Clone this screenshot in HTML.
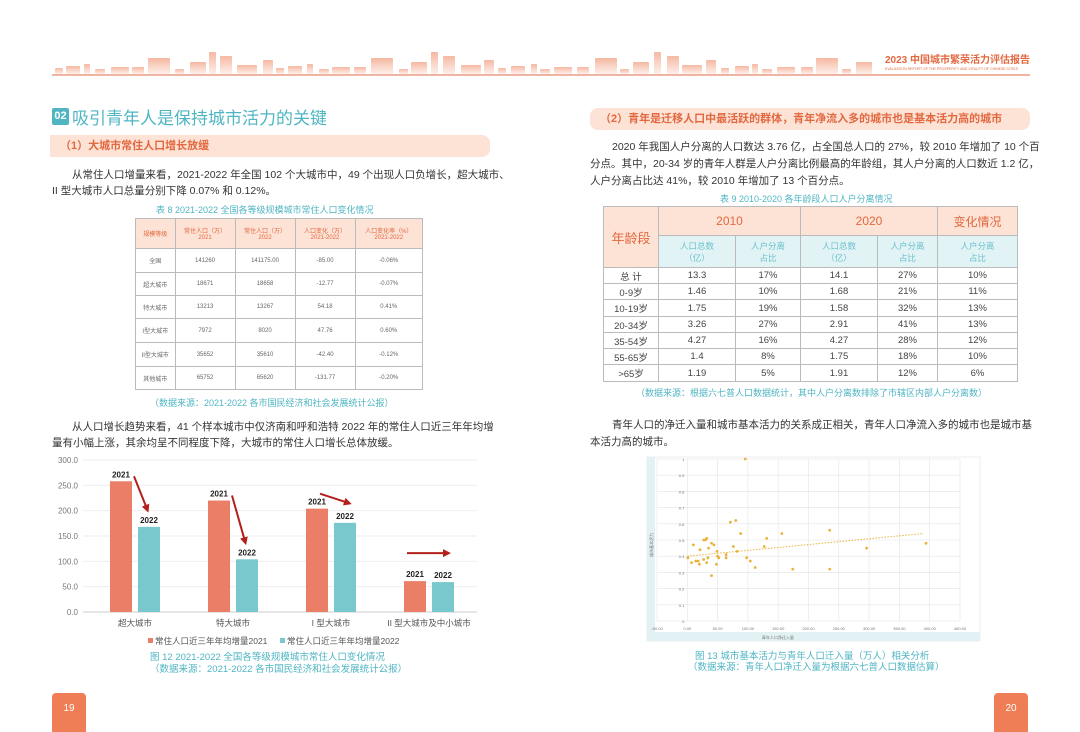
<!DOCTYPE html>
<html><head><meta charset="utf-8"><style>
*{margin:0;padding:0;box-sizing:border-box}
body{width:1080px;height:732px;background:#fff;position:relative;overflow:hidden;font-family:"Liberation Sans","Noto Sans CJK SC",sans-serif;color:#333}
.a{position:absolute;white-space:nowrap}
.p{font-size:10.5px;color:#333}
.cap{font-size:9px;color:#4fb5c3}
.sub{background:#fde2d6;color:#e2683f;font-size:11px;font-weight:bold;border-radius:0 8px 8px 0;padding-left:10px;line-height:22px}
table{border-collapse:collapse;position:absolute}
td{border:1px solid #bbb;text-align:center;font-size:6px;color:#666;padding:0}
.t9 td{font-size:9.5px;color:#444}
</style></head><body>
<svg class="a" style="left:0;top:0" width="1080" height="90">
<defs><linearGradient id="g" x1="0" y1="0" x2="0" y2="1"><stop offset="0" stop-color="#f6b8a2"/><stop offset="1" stop-color="#fdf0ea"/></linearGradient></defs>
<g fill="url(#g)" id="sky"></g>
<line x1="52" y1="75" x2="1030" y2="75" stroke="#e7876b" stroke-width="1.2"/>
<text x="885" y="63" font-size="10" fill="#e2683f" font-weight="bold" font-family="Liberation Sans,Noto Sans CJK SC,sans-serif">2023 中国城市繁荣活力评估报告</text>
<text x="885" y="70" font-size="3.5" fill="#e2683f">EVALUATION REPORT OF THE PROSPERITY AND VITALITY OF CHINESE CITIES</text>
</svg>
<div class="a" style="left:52px;top:108px;width:17px;height:17px;background:#4fb5c3;color:#fff;font-size:11px;font-weight:bold;text-align:center;line-height:17px;border-radius:2px">02</div>
<div class="a" style="left:72px;top:104px;font-size:17px;color:#4fb5c3">吸引青年人是保持城市活力的关键</div>
<div class="a sub" style="left:50px;top:135px;width:440px">（1）大城市常住人口增长放缓</div>
<div class="a p" style="left:72px;top:167px">从常住人口增量来看，2021-2022 年全国 102 个大城市中，49 个出现人口负增长，超大城市、</div>
<div class="a p" style="left:52px;top:183px">II 型大城市人口总量分别下降 0.07% 和 0.12%。</div>
<div class="a cap" style="left:156px;top:203px">表 8  2021-2022 全国各等级规模城市常住人口变化情况</div>
<table style="left:135px;top:218px;width:288px">
<tr style="height:30px;background:#fde2d6;color:#e2683f"><td style="color:#e2683f">规模等级</td><td style="color:#e2683f">常住人口（万）<br>2021</td><td style="color:#e2683f">常住人口（万）<br>2022</td><td style="color:#e2683f">人口变化（万）<br>2021-2022</td><td style="color:#e2683f">人口变化率（%）<br>2021-2022</td></tr>
<tr style="height:24px"><td>全国</td><td>141260</td><td>141175.00</td><td>-85.00</td><td>-0.06%</td></tr>
<tr style="height:23px"><td>超大城市</td><td>18671</td><td>18658</td><td>-12.77</td><td>-0.07%</td></tr>
<tr style="height:23px"><td>特大城市</td><td>13213</td><td>13267</td><td>54.18</td><td>0.41%</td></tr>
<tr style="height:24px"><td>I型大城市</td><td>7972</td><td>8020</td><td>47.76</td><td>0.60%</td></tr>
<tr style="height:24px"><td>II型大城市</td><td>35652</td><td>35610</td><td>-42.40</td><td>-0.12%</td></tr>
<tr style="height:23px"><td>其他城市</td><td>65752</td><td>65620</td><td>-131.77</td><td>-0.20%</td></tr>
</table>
<div class="a cap" style="left:150px;top:396px">（数据来源：2021-2022 各市国民经济和社会发展统计公报）</div>
<div class="a p" style="left:72px;top:419px">从人口增长趋势来看，41 个样本城市中仅济南和呼和浩特 2022 年的常住人口近三年年均增</div>
<div class="a p" style="left:52px;top:435px">量有小幅上涨，其余均呈不同程度下降，大城市的常住人口增长总体放缓。</div>
<svg class="a" style="left:0;top:450px" width="540" height="200" id="bar"></svg>
<div class="a cap" style="left:150px;top:649px;font-size:9.5px">图 12  2021-2022 全国各等级规模城市常住人口变化情况</div>
<div class="a cap" style="left:150px;top:661px;font-size:9.5px">（数据来源：2021-2022 各市国民经济和社会发展统计公报）</div>
<div class="a" style="left:52px;top:693px;width:34px;height:39px;background:#ef7d55;color:#fff;font-size:10px;text-align:center;line-height:32px;border-radius:4px 4px 0 0">19</div>

<div class="a sub" style="left:590px;top:108px;width:440px;border-radius:8px">（2）青年是迁移人口中最活跃的群体，青年净流入多的城市也是基本活力高的城市</div>
<div class="a p" style="left:612px;top:139px">2020 年我国人户分离的人口数达 3.76 亿，占全国总人口的 27%，较 2010 年增加了 10 个百</div>
<div class="a p" style="left:590px;top:156px">分点。其中，20-34 岁的青年人群是人户分离比例最高的年龄组，其人户分离的人口数近 1.2 亿，</div>
<div class="a p" style="left:590px;top:173px">人户分离占比达 41%，较 2010 年增加了 13 个百分点。</div>
<div class="a cap" style="left:720px;top:192px">表 9  2010-2020 各年龄段人口人户分离情况</div>
<table class="t9" style="left:603px;top:206px;width:415px">
<tr style="height:29px;background:#fde2d6"><td rowspan="2" style="width:55px;color:#e2683f;font-size:13px">年龄段</td><td colspan="2" style="color:#e2683f;font-size:12px">2010</td><td colspan="2" style="color:#e2683f;font-size:12px">2020</td><td style="color:#e2683f;font-size:12px">变化情况</td></tr>
<tr style="height:32px;background:#e2f3f5"><td style="width:77px;color:#6cc1cc;font-size:8.5px">人口总数<br>（亿）</td><td style="width:65px;color:#6cc1cc;font-size:8.5px">人户分离<br>占比</td><td style="width:77px;color:#6cc1cc;font-size:8.5px">人口总数<br>（亿）</td><td style="width:60px;color:#6cc1cc;font-size:8.5px">人户分离<br>占比</td><td style="color:#6cc1cc;font-size:8.5px">人户分离<br>占比</td></tr>
<tr style="height:16px"><td>总 计</td><td>13.3</td><td>17%</td><td>14.1</td><td>27%</td><td>10%</td></tr>
<tr style="height:16px"><td>0-9岁</td><td>1.46</td><td>10%</td><td>1.68</td><td>21%</td><td>11%</td></tr>
<tr style="height:17px"><td>10-19岁</td><td>1.75</td><td>19%</td><td>1.58</td><td>32%</td><td>13%</td></tr>
<tr style="height:16px"><td>20-34岁</td><td>3.26</td><td>27%</td><td>2.91</td><td>41%</td><td>13%</td></tr>
<tr style="height:16px"><td>35-54岁</td><td>4.27</td><td>16%</td><td>4.27</td><td>28%</td><td>12%</td></tr>
<tr style="height:16px"><td>55-65岁</td><td>1.4</td><td>8%</td><td>1.75</td><td>18%</td><td>10%</td></tr>
<tr style="height:17px"><td>&gt;65岁</td><td>1.19</td><td>5%</td><td>1.91</td><td>12%</td><td>6%</td></tr>
</table>
<div class="a cap" style="left:636px;top:386px">（数据来源：根据六七普人口数据统计，其中人户分离数排除了市辖区内部人户分离数）</div>
<div class="a p" style="left:612px;top:417px">青年人口的净迁入量和城市基本活力的关系成正相关，青年人口净流入多的城市也是城市基</div>
<div class="a p" style="left:590px;top:434px">本活力高的城市。</div>
<svg class="a" style="left:640px;top:455px" width="350" height="190" id="sc"></svg>
<div class="a cap" style="left:695px;top:648px;font-size:9.5px">图 13  城市基本活力与青年人口迁入量（万人）相关分析</div>
<div class="a cap" style="left:688px;top:659px;font-size:9.5px">（数据来源：青年人口净迁入量为根据六七普人口数据估算）</div>
<div class="a" style="left:994px;top:693px;width:34px;height:39px;background:#ef7d55;color:#fff;font-size:10px;text-align:center;line-height:32px;border-radius:4px 4px 0 0">20</div>
<script>
const NS="http://www.w3.org/2000/svg";
function mk(p,t,a){const e=document.createElementNS(NS,t);for(const k in a)e.setAttribute(k,a[k]);p.appendChild(e);return e;}
// skyline
const sky=document.getElementById('sky');
const bw=[8,14,6,10,18,12,22,9,16,7,12,20,10];const bh=[6,12,5,9,16,8,22,7,14,5,10,18,7];
let sx=55,i=0;
while(sx<870){const w=bw[i%13],h=bh[(i*5)%13];const b=mk(sky,'rect',{x:sx,y:74-h,width:w,height:h,rx:1});


sx+=w+3+(i%4);i++;}
// bar chart
const cats=["超大城市","特大城市","I 型大城市","II 型大城市及中小城市"];
const v2021=[258,220,204,61];
const v2022=[168,104,176,59];
const yTicks=[0,50,100,150,200,250,300];
const bar=document.getElementById('bar');
const df=mk(bar,'defs',{});const mkr=mk(df,'marker',{id:'ah',markerWidth:4,markerHeight:4,refX:2,refY:2,orient:'auto'});mk(mkr,'path',{d:'M0,0L4,2L0,4z',fill:'#b3201c'});
const y0=162,yTop=10;const Y=v=>y0-(v/300)*(y0-yTop);
const X=i=>133+i*98;
yTicks.forEach(t=>{const l=mk(bar,'line',{x1:83,x2:477,y1:Y(t),y2:Y(t),stroke:t?'#eee':'#ccc'});


const tx=mk(bar,'text',{x:78,y:Y(t)+3,'font-size':8,fill:'#777','text-anchor':'end'});tx.textContent=t.toFixed(1);

});
cats.forEach((c,i)=>{
const r1=mk(bar,'rect',{x:X(i)-23,y:Y(v2021[i]),width:22,height:y0-Y(v2021[i]),fill:'#ea7e66'});


const r2=mk(bar,'rect',{x:X(i)+5,y:Y(v2022[i]),width:22,height:y0-Y(v2022[i]),fill:'#79c8cd'});


const a=mk(bar,'text',{x:X(i)-12,y:Y(v2021[i])-4,'font-size':8,'font-weight':'bold','text-anchor':'middle',fill:'#222'});a.textContent='2021';


const b=mk(bar,'text',{x:X(i)+16,y:Y(v2022[i])-4,'font-size':8,'font-weight':'bold','text-anchor':'middle',fill:'#222'});b.textContent='2022';


const cl=mk(bar,'text',{x:X(i)+2,y:y0+14,'font-size':8.5,fill:'#555','text-anchor':'middle'});cl.textContent=c;


const d=v2021[i]-v2022[i];
let ax1,ay1,ax2,ay2;
if(d<10){ax1=X(i)-20;ay1=Y(v2021[i])-28;ax2=X(i)+20;ay2=ay1;}
else if(d<50){ax1=X(i)-9;ay1=Y(v2021[i])-15;ax2=X(i)+19;ay2=Y(v2022[i])-20;}
else{ax1=X(i)+1;ay1=Y(v2021[i])-5;ax2=X(i)+14;ay2=Y(v2022[i])-18;}
const ar=mk(bar,'line',{x1:ax1,y1:ay1,x2:ax2,y2:ay2,stroke:'#b3201c','stroke-width':2,'marker-end':'url(#ah)'});


});
[['#ea7e66','常住人口近三年年均增量2021',148],['#79c8cd','常住人口近三年年均增量2022',280]].forEach(l=>{
const s=mk(bar,'rect',{x:l[2],y:y0+26,width:5,height:5,fill:l[0]});
const t=mk(bar,'text',{x:l[2]+7,y:y0+32,'font-size':8.5,fill:'#555'});t.textContent=l[1];});
// scatter
const px=[95.6,1,10,7,14,18,20,21,27,30,32,35,32,34,27,40,44,40,49,48,50,52,64,64,71,76,80,82,88,98,104,112,127,131,156,174,235,235,296,394];
const py=[1.0,0.39,0.47,0.36,0.37,0.37,0.35,0.44,0.50,0.50,0.51,0.45,0.36,0.39,0.38,0.48,0.47,0.28,0.43,0.35,0.40,0.39,0.41,0.39,0.61,0.46,0.62,0.43,0.54,0.39,0.37,0.33,0.46,0.51,0.54,0.32,0.56,0.32,0.45,0.48];
const xTicks=[-50,0,50,100,150,200,250,300,350,400,450];
const yTicks2=[0,0.1,0.2,0.3,0.4,0.5,0.6,0.7,0.8,0.9,1];
const trend=[[0,0.40],[390,0.54]];
const sc=document.getElementById('sc');
const SX=v=>17+(v+50)/500*303,SY=v=>166-v*162;
const fr=mk(sc,'rect',{x:7,y:2,width:333,height:184,fill:'none',stroke:'#ececec'});
const bg1=mk(sc,'rect',{x:7,y:2,width:8,height:178,fill:'#e2f1f4'});
const bg2=mk(sc,'rect',{x:7,y:177,width:333,height:9,fill:'#e2f1f4'});
yTicks2.forEach(t=>{const l=mk(sc,'line',{x1:SX(-50),x2:SX(450),y1:SY(t),y2:SY(t),stroke:'#e4e4e4','stroke-width':.6});
const tx=mk(sc,'text',{x:SX(0)-3,y:SY(t)+2,'font-size':4,fill:'#777','text-anchor':'end'});tx.textContent=t;});
xTicks.forEach(t=>{const l=mk(sc,'line',{x1:SX(t),x2:SX(t),y1:SY(1),y2:SY(0),stroke:'#e4e4e4','stroke-width':.6});
const tx=mk(sc,'text',{x:SX(t),y:SY(0)+9,'font-size':4,fill:'#777','text-anchor':'middle'});tx.textContent=t.toFixed(2);});
const tl=mk(sc,'line',{x1:SX(trend[0][0]),y1:SY(trend[0][1]),x2:SX(trend[1][0]),y2:SY(trend[1][1]),stroke:'#e9b33b','stroke-width':1,'stroke-dasharray':'1.5,1.5'});
px.forEach((x,i)=>{const c=mk(sc,'circle',{cx:SX(x),cy:SY(py[i]),r:1.4,fill:'#e9b33b'});});
const xt=mk(sc,'text',{x:SX(100)+30,y:184,'font-size':4,fill:'#777','text-anchor':'middle'});xt.textContent='青年人口净迁入量';
const yt=mk(sc,'text',{x:13,y:90,'font-size':4,fill:'#777','text-anchor':'middle',transform:'rotate(-90 13 90)'});yt.textContent='城市基本活力';
</script>
</body></html>
